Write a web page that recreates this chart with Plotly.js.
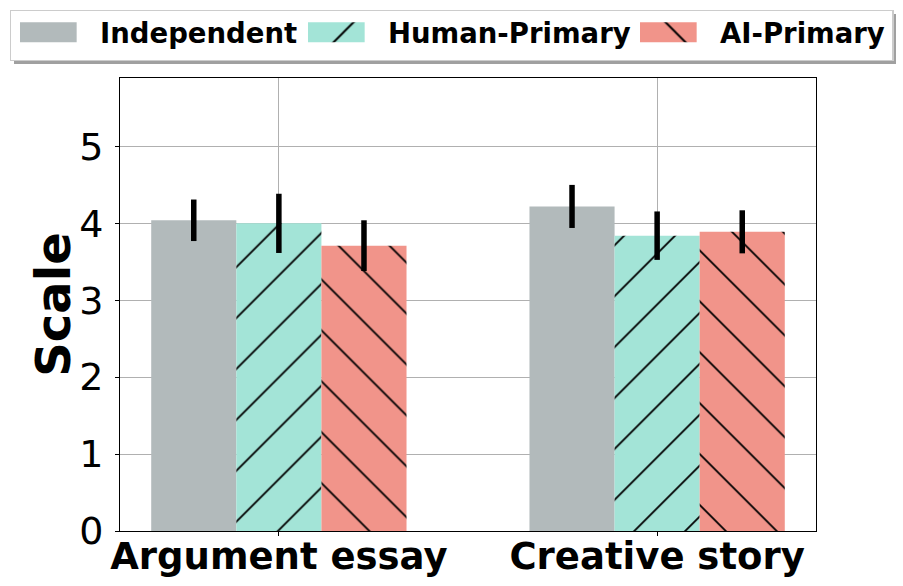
<!DOCTYPE html>
<html>
<head>
<meta charset="utf-8">
<script src="https://cdn.plot.ly/plotly-3.0.1.min.js"></script>
<style>
  body { margin: 0; background: #fff; }
  #chart { width: 903px; height: 586px; }
</style>
</head>
<body>
<div id="chart"></div>
<script>
const categories = ['Argument essay', 'Creative story'];
const seriesNames = ['Independent', 'Human-Primary', 'AI-Primary'];
const independent = [4.04, 4.22];
const independentErr = [0.27, 0.28];
const humanPrimary = [4.00, 3.84];
const humanPrimaryErr = [0.385, 0.315];
const aiPrimary = [3.71, 3.89];
const aiPrimaryErr = [0.33, 0.28];

const colors = ['#b2babb', '#a3e4d7', '#f1948a'];
const shapes = ['', '/', '\\'];

// legend is laid out at 0.9 size and scaled up afterwards, so it fits on one row
const LEG_SCALE = 0.9;
// where the legend box and its labels sit on the page (px)
const legBox = { left: 10.7, top: 10.7, right: 893, bottom: 60.7 };
const legTextLeft = [100, 388, 720];
const legTextMid = 33;

const makeBar = (i, y, err) => ({
  type: 'bar',
  name: seriesNames[i],
  x: categories,
  y: y,
  marker: {
    color: colors[i],
    line: { width: 0 },
    pattern: { shape: shapes[i], fgcolor: '#000', bgcolor: colors[i], size: 36, solidity: 0.05 }
  },
  error_y: { type: 'data', array: err, visible: true, color: '#000', thickness: 5.5, width: 0 }
});

const data = [
  makeBar(0, independent, independentErr),
  makeBar(1, humanPrimary, humanPrimaryErr),
  makeBar(2, aiPrimary, aiPrimaryErr)
];

const layout = {
  width: 903,
  height: 586,
  margin: { l: 119, r: 87, t: 77, b: 55 },
  paper_bgcolor: '#fff',
  plot_bgcolor: '#fff',
  font: { family: 'DejaVu Sans', color: '#000' },
  barmode: 'group',
  bargap: 0.325,
  bargroupgap: 0,
  showlegend: true,
  legend: {
    orientation: 'h',
    x: -0.1554, xanchor: 'left',
    y: 1.146, yanchor: 'top',
    font: { size: 27.5 * LEG_SCALE, family: 'DejaVu Sans', weight: 'bold' },
    bgcolor: '#fff',
    bordercolor: '#cccccc',
    borderwidth: 1,
    itemwidth: 70,
    traceorder: 'normal'
  },
  xaxis: {
    range: [-0.42, 1.42],
    showline: true, mirror: true, linecolor: '#000', linewidth: 1,
    showgrid: true, gridcolor: '#b0b0b0', gridwidth: 1,
    ticks: 'outside', ticklen: 4, tickcolor: '#000',
    ticklabelstandoff: -11,
    tickfont: { size: 37, family: 'DejaVu Sans', weight: 'bold' },
    zeroline: false
  },
  yaxis: {
    range: [0, 5.89],
    tickvals: [0, 1, 2, 3, 4, 5],
    showline: true, mirror: true, linecolor: '#000', linewidth: 1,
    showgrid: true, gridcolor: '#b0b0b0', gridwidth: 1,
    ticks: 'outside', ticklen: 4, tickcolor: '#000',
    ticklabelstandoff: 4,
    tickfont: { size: 38, family: 'DejaVu Sans' },
    zeroline: false,
    title: { text: 'Scale', font: { size: 48, family: 'DejaVu Sans', weight: 'bold' }, standoff: 2 }
  }
};

const shiftTranslate = (el, dx, dy) => {
  const tr = el.getAttribute('transform') || '';
  const m = tr.match(/translate\(\s*([-\d.e]+)[ ,]+([-\d.e]+)\s*\)/);
  const x = m ? parseFloat(m[1]) : 0;
  const y = m ? parseFloat(m[2]) : 0;
  const rest = m ? tr.replace(m[0], '') : tr;
  el.setAttribute('transform', 'translate(' + (x + dx) + ',' + (y + dy) + ')' + rest);
};

Plotly.newPlot('chart', data, layout, { staticPlot: true }).then(() => {
  const k = 1 / LEG_SCALE;
  const leg = document.querySelector('.legend');
  leg.setAttribute('transform', leg.getAttribute('transform') + ' scale(' + k + ')');

  // wide swatches, filled the same way as the bars, and items placed as in the original
  const barTraces = document.querySelectorAll('.barlayer .trace');
  document.querySelectorAll('.legend .traces').forEach((item, i) => {
    const p = item.querySelector('.legendpoints path');
    if (p) {
      p.setAttribute('d', 'M-32,9H19V-9H-32Z');
      const barPath = barTraces[i] && barTraces[i].querySelector('.point path');
      if (barPath) p.style.fill = barPath.style.fill;
    }
    const t = item.querySelector('text.legendtext');
    if (t) {
      const r = t.getBoundingClientRect();
      shiftTranslate(item, (legTextLeft[i] - r.left) / k, (legTextMid - (r.top + r.bottom) / 2) / k);
    }
  });

  // box size and a drop shadow behind it
  const bg = document.querySelector('.legend rect.bg');
  if (bg) {
    const r = bg.getBoundingClientRect();
    const x = parseFloat(bg.getAttribute('x') || 0);
    const y = parseFloat(bg.getAttribute('y') || 0);
    bg.setAttribute('x', x + (legBox.left - r.left) / k);
    bg.setAttribute('y', y + (legBox.top - r.top) / k);
    bg.setAttribute('width', (legBox.right - legBox.left) / k);
    bg.setAttribute('height', (legBox.bottom - legBox.top) / k);
    const sh = bg.cloneNode();
    sh.setAttribute('transform', 'translate(3,3)');
    sh.style.fill = '#a0a0a0';
    sh.style.stroke = 'none';
    bg.parentNode.insertBefore(sh, bg);
  }
  document.querySelectorAll('.legend [clip-path]').forEach(el => el.removeAttribute('clip-path'));
  leg.removeAttribute('clip-path');

  // nudge the y title toward the tick labels
  const yt = document.querySelector('.g-ytitle');
  if (yt) yt.setAttribute('transform', 'translate(9,0)');
});
</script>
</body>
</html>
